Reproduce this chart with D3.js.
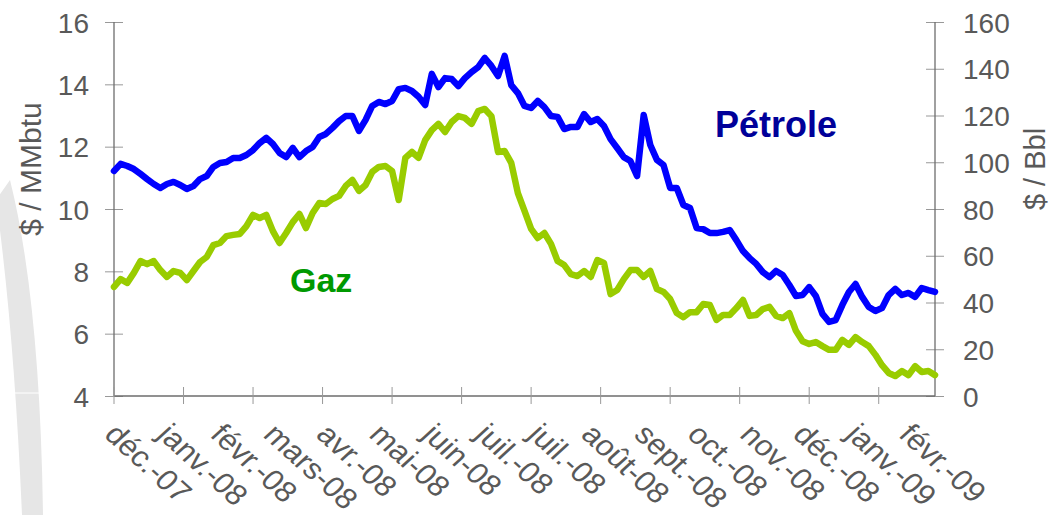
<!DOCTYPE html>
<html>
<head>
<meta charset="utf-8">
<script src="https://d3js.org/d3.v7.min.js"></script>
<title>Gaz et pétrole</title>
<style>
body { margin: 0; background: #fff; }
#root { width: 1050px; height: 515px; display: block; }
text { font-family: "Liberation Sans", Arial, sans-serif; fill: #595959; }
</style>
</head>
<body>
<svg id="root"></svg>

<script>
// one value every 2 categories, 248 categories on the axis
let gas = [
	7.50, 7.75, 7.63, 7.95, 8.33, 8.23, 8.33, 8.04, 7.82, 8.01,
	7.95, 7.72, 8.01, 8.30, 8.46, 8.84, 8.91, 9.13, 9.17, 9.20,
	9.45, 9.81, 9.71, 9.81, 9.29, 8.91, 9.23, 9.58, 9.84, 9.39,
	9.87, 10.19, 10.16, 10.32, 10.42, 10.74, 10.93, 10.58, 10.77, 11.19,
	11.35, 11.38, 11.22, 10.29, 11.64, 11.83, 11.64, 12.21, 12.53, 12.73,
	12.47, 12.79, 12.98, 12.92, 12.73, 13.14, 13.21, 12.98, 11.83, 11.86,
	11.48, 10.51, 9.94, 9.36, 9.07, 9.23, 8.88, 8.33, 8.20, 7.91,
	7.85, 8.01, 7.82, 8.36, 8.27, 7.27, 7.40, 7.75, 8.04, 8.04,
	7.82, 8.01, 7.43, 7.34, 7.11, 6.66, 6.53, 6.69, 6.69, 6.95,
	6.92, 6.44, 6.60, 6.60, 6.82, 7.08, 6.57, 6.60, 6.79, 6.86,
	6.57, 6.50, 6.66, 6.09, 5.76, 5.67, 5.73, 5.60, 5.48, 5.48,
	5.80, 5.64, 5.89, 5.73, 5.60, 5.32, 4.99, 4.74, 4.64, 4.80,
	4.67, 4.96, 4.77, 4.80, 4.67
]

let oil = [
	96.3, 99.3, 98.4, 97.1, 95.0, 92.8, 90.7, 89.0, 90.7, 91.6,
	90.3, 88.6, 89.8, 92.8, 94.1, 98.0, 99.7, 100.1, 101.8, 101.8,
	103.1, 105.2, 108.2, 110.4, 107.8, 104.0, 102.2, 106.1, 102.2, 104.8,
	106.5, 110.8, 112.1, 114.7, 117.6, 119.8, 119.8, 113.4, 118.1, 124.1,
	125.8, 124.9, 126.2, 131.3, 131.8, 130.5, 128.0, 124.5, 137.8, 132.2,
	136.0, 135.6, 132.6, 136.0, 138.6, 140.7, 144.6, 141.2, 136.9, 145.5,
	133.0, 129.6, 124.1, 123.2, 126.2, 123.6, 119.8, 119.4, 114.2, 115.1,
	115.1, 120.6, 117.2, 118.5, 115.5, 109.9, 106.1, 102.2, 100.5, 94.1,
	120.2, 107.4, 101.0, 98.8, 89.0, 89.0, 81.7, 80.4, 71.9, 71.4,
	69.7, 69.7, 70.2, 71.0, 66.7, 62.0, 59.0, 56.5, 53.0, 50.9,
	53.5, 51.8, 47.5, 42.8, 43.2, 46.6, 42.8, 35.1, 31.7, 32.5,
	38.9, 44.5, 47.9, 42.4, 38.1, 36.4, 37.6, 43.2, 45.8, 43.2,
	44.1, 42.4, 46.2, 45.3, 44.5
]

let monthLabels = ['déc.-07', 'janv.-08', 'févr.-08', 'mars-08', 'avr.-08', 'mai-08', 'juin-08', 'juil.-08',
	'juil.-08', 'août-08', 'sept.-08', 'oct.-08', 'nov.-08', 'déc.-08', 'janv.-09', 'févr.-09']

let gasTicks = [4, 6, 8, 10, 12, 14, 16]
let oilTicks = [0, 20, 40, 60, 80, 100, 120, 140, 160]

let nCategories = 248
let pointStep = 2
let labelEvery = 16
let tickEvery = 21

let root = d3.select('#root')

// grey arc of the slide background
root.append('path')
	.attr('d', 'M -4,200 Q 14,330 22,515 L 43,515 Q 40,300 10,180 Z')
	.attr('fill', '#e6e6e6')
root.append('line').attr('x1', 0).attr('x2', 50).attr('y1', 393).attr('y2', 393)
	.attr('stroke', '#fff').attr('stroke-width', 1)

let x = d3.scaleLinear().domain([0, nCategories]).range([114, 935])
let yGas = d3.scaleLinear().domain([4, 16]).range([396, 22])
let yOil = d3.scaleLinear().domain([0, 160]).range([396, 22])

// left axis
let left = root.append('g').attr('transform', 'translate(114,0)')
	.call(d3.axisLeft(yGas).tickValues(gasTicks).tickSize(9).tickPadding(0))
left.select('.domain').remove()
left.selectAll('.tick line').attr('x1', -9).attr('x2', 9).attr('stroke', '#999')
left.selectAll('.tick text').attr('x', -25).attr('dy', '0.36em')
	.style('font-size', '28px').attr('fill', '#595959')

// right axis
let right = root.append('g').attr('transform', 'translate(935,0)')
	.call(d3.axisRight(yOil).tickValues(oilTicks).tickSize(9).tickPadding(0))
right.select('.domain').remove()
right.selectAll('.tick line').attr('x1', -9).attr('x2', 9).attr('stroke', '#999')
right.selectAll('.tick text').attr('x', 28).attr('dy', '0.36em')
	.style('font-size', '28px').attr('fill', '#595959')

root.append('line').attr('x1', 114).attr('x2', 114).attr('y1', 22).attr('y2', 396)
	.attr('stroke', '#6d6d6d').attr('stroke-width', 1.3)
root.append('line').attr('x1', 935).attr('x2', 935).attr('y1', 22).attr('y2', 396)
	.attr('stroke', '#6d6d6d').attr('stroke-width', 1.3)

// bottom axis
let tickCats = d3.range(0, nCategories, tickEvery)
root.append('line').attr('x1', 114).attr('x2', 935).attr('y1', 396).attr('y2', 396)
	.attr('stroke', '#6d6d6d').attr('stroke-width', 1.3)
root.selectAll('.xtick').data(tickCats).enter().append('line')
	.attr('class', 'xtick')
	.attr('x1', d => x(d)).attr('x2', d => x(d))
	.attr('y1', 387).attr('y2', 404)
	.attr('stroke', '#999')

root.selectAll('.xlabel').data(monthLabels).enter().append('text')
	.attr('class', 'xlabel')
	.attr('transform', (d, i) => 'translate(' + (x(i * labelEvery) - 11) + ',436) scale(1.1,1) rotate(45)')
	.style('font-size', '29px')
	.text(d => d)

// axis titles
root.append('text')
	.attr('transform', 'translate(41,169) rotate(-90)')
	.attr('text-anchor', 'middle')
	.style('font-size', '30px')
	.text('$ / MMbtu')
root.append('text')
	.attr('transform', 'translate(1045,169) rotate(-90)')
	.attr('text-anchor', 'middle')
	.style('font-size', '29px')
	.text('$ / Bbl')

// series
let gasLine = d3.line().x((d, i) => x(i * pointStep)).y(d => yGas(d))
let oilLine = d3.line().x((d, i) => x(i * pointStep)).y(d => yOil(d))

root.append('path').datum(gas)
	.attr('d', gasLine)
	.attr('fill', 'none')
	.attr('stroke', '#99cc00')
	.attr('stroke-width', 6.5)
	.attr('stroke-linejoin', 'round')
	.attr('stroke-linecap', 'round')

root.append('path').datum(oil)
	.attr('d', oilLine)
	.attr('fill', 'none')
	.attr('stroke', '#0000ff')
	.attr('stroke-width', 6.5)
	.attr('stroke-linejoin', 'round')
	.attr('stroke-linecap', 'round')

// series names
root.append('text').attr('x', 715).attr('y', 137)
	.style('font-size', '36px').style('font-weight', 'bold')
	.style('fill', '#000099')
	.text('Pétrole')
root.append('text').attr('x', 290).attr('y', 292)
	.style('font-size', '34px').style('font-weight', 'bold')
	.style('fill', '#009900')
	.text('Gaz')
</script>
</body>
</html>
